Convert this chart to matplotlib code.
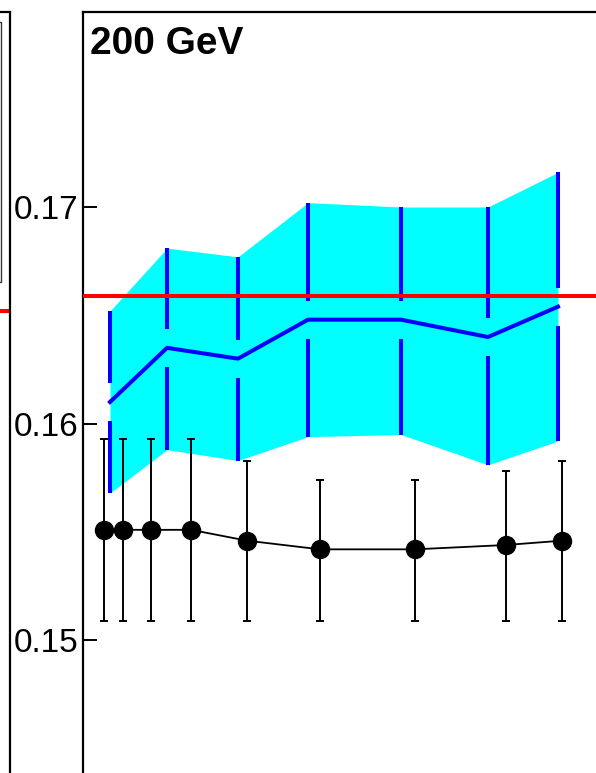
import numpy as np
import matplotlib
matplotlib.use("Agg")
import matplotlib.pyplot as plt
from matplotlib.patches import Rectangle

plt.rcParams['font.family'] = ['Liberation Sans', 'DejaVu Sans']

# measured data (x in arbitrary axis units)
data_x = [21, 40, 68, 108, 164, 237, 332, 423, 479]
data_y = [0.1551, 0.1551, 0.1551, 0.1551, 0.1546, 0.1542, 0.1542, 0.1544, 0.1546]
data_up = [0.1593, 0.1593, 0.1593, 0.1593, 0.1583, 0.1574, 0.1574, 0.1578, 0.1583]
data_lo = [0.1509, 0.1509, 0.1509, 0.1509, 0.1509, 0.1509, 0.1509, 0.1509, 0.1509]

model_x = [27, 84, 155, 225, 318, 405, 475]
model_y = [0.1610, 0.1635, 0.1630, 0.1648, 0.1648, 0.1640, 0.1654]
model_up = [0.1652, 0.1681, 0.1677, 0.1702, 0.1700, 0.1700, 0.1716]
model_lo = [0.1568, 0.1588, 0.1583, 0.1594, 0.1595, 0.1581, 0.1592]

ref_value = 0.1659
yticks = [0.15, 0.16, 0.17]

W, H = 596, 773
fig = plt.figure(figsize=(W / 100, H / 100), dpi=100)

# main panel, extends past right and bottom edge of the figure
ax = fig.add_axes([83 / W, 1 - 857 / H, (620 - 83) / W, (857 - 12) / H])
ax.set_xlim(0, 537)
ax.set_ylim(0.14, 0.179)

ax.fill_between(model_x, model_lo, model_up, color='#00ffff', lw=0, zorder=1)
ax.plot(model_x, model_y, color='#0000ff', lw=2.9, zorder=3)
gap = 0.00088
for x, y, lo, up in zip(model_x, model_y, model_lo, model_up):
    ax.plot([x, x], [y + gap, up], color='#0000ff', lw=2.9, solid_capstyle='butt', zorder=3)
    ax.plot([x, x], [lo, y - gap], color='#0000ff', lw=2.9, solid_capstyle='butt', zorder=3)

ax.axhline(ref_value, color='#ff0000', lw=2.9, zorder=4)

ax.plot(data_x, data_y, color='black', lw=1.3, zorder=5)
yerr = [np.array(data_y) - np.array(data_lo), np.array(data_up) - np.array(data_y)]
ax.errorbar(data_x, data_y, yerr=yerr, fmt='o', color='black', ms=13,
            elinewidth=1.4, capsize=2.9, capthick=1.4, zorder=6)

ax.set_yticks(yticks)
ax.set_yticklabels(['%.2f' % v for v in yticks], fontsize=24)
ax.tick_params(axis='y', direction='in', length=10, width=1.4, pad=3)
ax.set_xticks([])
for s in ax.spines.values():
    s.set_linewidth(1.6)

ax.text(0.013, 0.984, '200 GeV', transform=ax.transAxes, fontsize=28,
        fontweight='bold', va='top', ha='left')

# left panel, only its right edge is in view
ax2 = fig.add_axes([-200 / W, 1 - 857 / H, (210) / W, (857 - 12) / H])
ax2.set_xlim(0, 210)
ax2.set_ylim(0, 845)
ax2.set_xticks([])
ax2.set_yticks([])
for s in ax2.spines.values():
    s.set_linewidth(1.6)
ax2.plot([0, 210], [845 - 299, 845 - 299], color='#ff0000', lw=2.9)
ax2.add_patch(Rectangle((10, 845 - 270), 191, 260, fill=False, lw=1.0, ec='#333333'))

fig.savefig('out.png', dpi=100)
